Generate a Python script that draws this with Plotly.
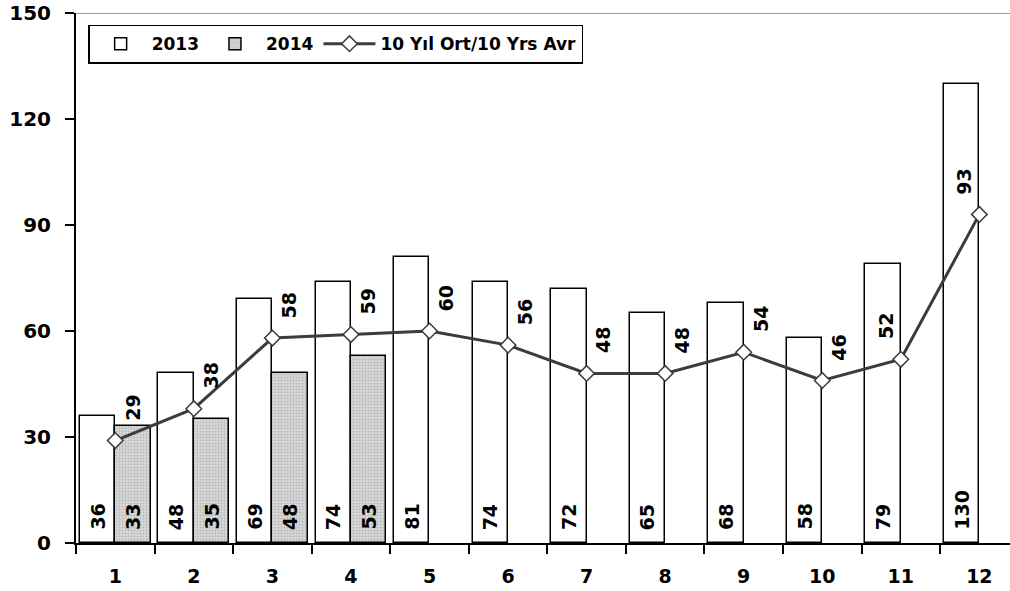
import plotly.graph_objects as go

months = [1, 2, 3, 4, 5, 6, 7, 8, 9, 10, 11, 12]
month_labels = ["1", "2", "3", "4", "5", "6", "7", "8", "9", "10", "11", "12"]
v2013 = [36, 48, 69, 74, 81, 74, 72, 65, 68, 58, 79, 130]
months2014 = [1, 2, 3, 4]
v2014 = [33, 35, 48, 53]
avg10 = [29, 38, 58, 59, 60, 56, 48, 48, 54, 46, 52, 93]
y_ticks = [0, 30, 60, 90, 120, 150]

FONT = "DejaVu Sans"
W, H = 1010, 591
ML, MR, MT, MB = 76, 0, 13, 48
x_range = [0.5, 12.39]
BAR_W = 0.45

fig = go.Figure()

fig.add_trace(go.Bar(
    x=months, y=v2013, name="2013",
    offset=-BAR_W, width=BAR_W,
    marker=dict(color="white", line=dict(color="black", width=1.5)),
))
fig.add_trace(go.Bar(
    x=months2014, y=v2014, name="2014",
    offset=0, width=BAR_W,
    marker=dict(color="#c8c8c8", line=dict(color="black", width=1.5),
                pattern=dict(shape=".", bgcolor="#d9d9d9", fgcolor="#9a9a9a", size=3, solidity=0.4)),
))
fig.add_trace(go.Scatter(
    x=months, y=avg10, name="10 Yıl Ort/10 Yrs Avr", mode="lines+markers",
    line=dict(color="#3c3c3c", width=3),
    marker=dict(symbol="diamond", size=12, color="white", line=dict(color="#3c3c3c", width=1.5)),
))
# invisible trace to carry the label axis
fig.add_trace(go.Scatter(x=months, y=[None] * 12, xaxis="x2", showlegend=False, hoverinfo="skip"))

lab_font = dict(family=FONT, size=19, color="black", weight="bold")

# rotated value labels at the base of the bars
for m, v in zip(months, v2013):
    fig.add_annotation(x=m - BAR_W / 2, y=0, text=str(v), showarrow=False, textangle=-90,
                       xanchor="center", yanchor="bottom", yshift=11, font=lab_font)
for m, v in zip(months2014, v2014):
    fig.add_annotation(x=m + BAR_W / 2, y=0, text=str(v), showarrow=False, textangle=-90,
                       xanchor="center", yanchor="bottom", yshift=11, font=lab_font)

# rotated value labels for the average line
for m, v in zip(months, avg10):
    dx = -15 if m >= 11 else 17
    fig.add_annotation(
        x=m, y=v, text=str(v), showarrow=False, textangle=-90,
        xshift=dx, yshift=33, xanchor="center", yanchor="middle", font=lab_font,
    )

# top border line at 150
fig.add_shape(type="line", xref="paper", yref="y", x0=0, x1=1, y0=150, y1=150,
              line=dict(color="#9a9a9a", width=2), layer="below")

fig.update_layout(
    width=W, height=H,
    margin=dict(l=ML, r=MR, t=MT, b=MB, pad=0, autoexpand=False),
    paper_bgcolor="white", plot_bgcolor="white",
    barmode="overlay", bargap=0,
    showlegend=True,
    legend=dict(
        orientation="h", x=0.013, y=0.978, xanchor="left", yanchor="top",
        bordercolor="black", borderwidth=1.5, bgcolor="white",
        font=dict(family=FONT, size=17, color="black", weight="bold"),
        itemwidth=52, tracegroupgap=0,
    ),
    xaxis=dict(
        range=x_range, tickvals=[m - 0.5 for m in months], showticklabels=False,
        ticks="outside", ticklen=9, tickwidth=1.5, tickcolor="black",
        showline=True, linecolor="black", linewidth=2, showgrid=False, zeroline=False,
        fixedrange=True, automargin=False,
    ),
    xaxis2=dict(
        range=x_range, overlaying="x", anchor="y", side="bottom",
        tickvals=months, ticktext=month_labels, ticks="", showline=False,
        showgrid=False, zeroline=False, ticklabelstandoff=20, automargin=False,
        tickfont=dict(family=FONT, size=19, color="black", weight="bold"),
    ),
    yaxis=dict(
        range=[0, 150], tickvals=y_ticks, ticks="outside", ticklen=9, tickwidth=1.5,
        tickcolor="black", showline=True, linecolor="black", linewidth=2,
        showgrid=False, zeroline=False, ticklabelstandoff=10, automargin=False,
        ticklabeloverflow="allow",
        tickfont=dict(family=FONT, size=20, color="black", weight="bold"),
    ),
)

fig.write_html("out.html", config={"displayModeBar": False},
               post_script="document.body.style.margin='0';")
